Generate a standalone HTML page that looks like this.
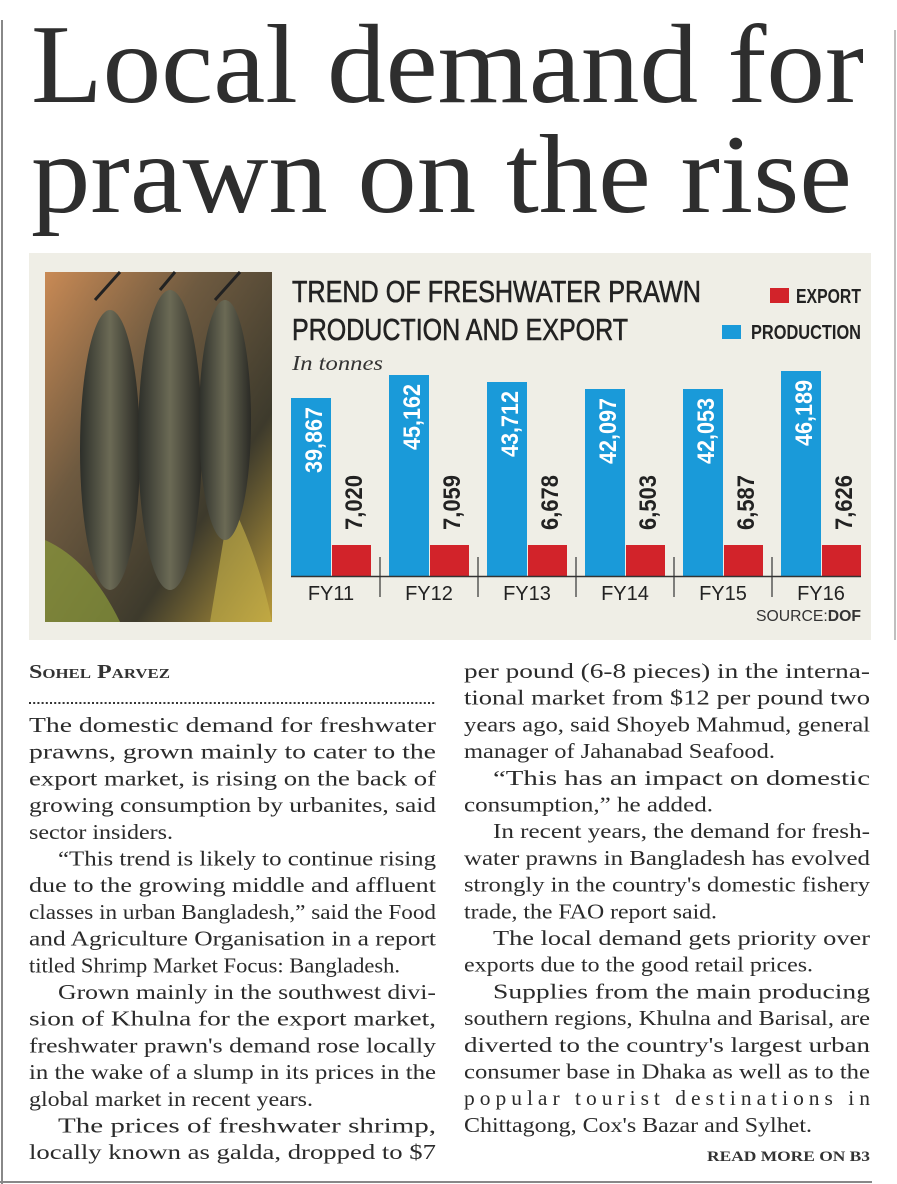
<!DOCTYPE html>
<html><head><meta charset="utf-8"><style>
html,body{margin:0;padding:0;background:#fff;}
svg{display:block}
.b{font-family:"Liberation Serif",serif;font-size:21.5px;fill:#2b2b2b}
.c{font-family:"Liberation Sans Narrow","Liberation Sans",sans-serif;}
</style></head><body>
<svg width="897" height="1184" viewBox="0 0 897 1184" xmlns="http://www.w3.org/2000/svg">
<line x1="2" y1="20" x2="2" y2="1184" stroke="#888" stroke-width="2"/>
<line x1="895" y1="30" x2="895" y2="640" stroke="#aaa" stroke-width="1.5"/>
<text x="31" y="102" font-family="Liberation Serif, serif" font-size="112" fill="#2e2e2e" textLength="833" lengthAdjust="spacingAndGlyphs">Local demand for</text>
<text x="31" y="212" font-family="Liberation Serif, serif" font-size="112" fill="#2e2e2e" textLength="821" lengthAdjust="spacingAndGlyphs">prawn on the rise</text>
<rect x="29" y="253" width="842" height="387" fill="#efeee6"/>
<defs>
<linearGradient id="ph" x1="0" y1="0" x2="1" y2="1">
<stop offset="0" stop-color="#c98a55"/><stop offset="0.35" stop-color="#6e5a40"/><stop offset="0.7" stop-color="#3d3a2c"/><stop offset="1" stop-color="#b99a3a"/>
</linearGradient>
<linearGradient id="pr" x1="0" y1="0" x2="1" y2="0">
<stop offset="0" stop-color="#2d2f2a"/><stop offset="0.5" stop-color="#6b6a55"/><stop offset="1" stop-color="#2a2a25"/>
</linearGradient>
</defs>
<rect x="45" y="272" width="227" height="350" fill="url(#ph)"/>
<path d="M45 540 Q90 560 120 622 L45 622Z" fill="#8a9a3a" opacity="0.7"/>
<path d="M230 500 Q260 560 272 622 L210 622Z" fill="#c7b24a" opacity="0.6"/>
<ellipse cx="110" cy="450" rx="30" ry="140" fill="url(#pr)"/>
<ellipse cx="170" cy="440" rx="32" ry="150" fill="url(#pr)"/>
<ellipse cx="225" cy="420" rx="26" ry="120" fill="url(#pr)"/>
<path d="M95 300 L120 272 M160 290 L175 272 M215 300 L240 272" stroke="#222" stroke-width="3"/>
<g class="c" fill="#222">
<text x="292" y="302" font-size="31" stroke="#222" stroke-width="0.6" textLength="409" lengthAdjust="spacingAndGlyphs">TREND OF FRESHWATER PRAWN</text>
<text x="292" y="340" font-size="31" stroke="#222" stroke-width="0.6" textLength="336" lengthAdjust="spacingAndGlyphs">PRODUCTION AND EXPORT</text>
<rect x="770" y="288" width="19" height="15" fill="#d2232a"/>
<text x="796" y="303" font-size="20" font-weight="bold" textLength="65" lengthAdjust="spacingAndGlyphs">EXPORT</text>
<rect x="722" y="325" width="19" height="14" fill="#1a9ad9"/>
<text x="751" y="339" font-size="20" font-weight="bold" textLength="110" lengthAdjust="spacingAndGlyphs">PRODUCTION</text>
</g>
<text x="292" y="370" font-family="Liberation Serif, serif" font-style="italic" font-size="21" fill="#333" textLength="91" lengthAdjust="spacingAndGlyphs">In tonnes</text>
<g class="c">
<rect x="291" y="398" width="40" height="178" fill="#1a9ad9"/><rect x="332" y="545" width="39" height="31" fill="#d2232a"/>
<rect x="389" y="375" width="40" height="201" fill="#1a9ad9"/><rect x="430" y="545" width="39" height="31" fill="#d2232a"/>
<rect x="487" y="382" width="40" height="194" fill="#1a9ad9"/><rect x="528" y="545" width="39" height="31" fill="#d2232a"/>
<rect x="585" y="389" width="40" height="187" fill="#1a9ad9"/><rect x="626" y="545" width="39" height="31" fill="#d2232a"/>
<rect x="683" y="389" width="40" height="187" fill="#1a9ad9"/><rect x="724" y="545" width="39" height="31" fill="#d2232a"/>
<rect x="781" y="371" width="40" height="205" fill="#1a9ad9"/><rect x="822" y="545" width="39" height="31" fill="#d2232a"/>
<line x1="291" y1="576.5" x2="861" y2="576.5" stroke="#333" stroke-width="1.5"/>
<g stroke="#333" stroke-width="1.2">
<line x1="380" y1="557" x2="380" y2="597"/><line x1="478" y1="557" x2="478" y2="597"/><line x1="576" y1="557" x2="576" y2="597"/><line x1="674" y1="557" x2="674" y2="597"/><line x1="772" y1="557" x2="772" y2="597"/>
</g>
<g fill="#fff" font-size="24" font-weight="bold" text-anchor="end">
<text transform="translate(322,407) rotate(-90)" textLength="66" lengthAdjust="spacingAndGlyphs">39,867</text>
<text transform="translate(420,384) rotate(-90)" textLength="66" lengthAdjust="spacingAndGlyphs">45,162</text>
<text transform="translate(518,391) rotate(-90)" textLength="66" lengthAdjust="spacingAndGlyphs">43,712</text>
<text transform="translate(616,398) rotate(-90)" textLength="66" lengthAdjust="spacingAndGlyphs">42,097</text>
<text transform="translate(714,398) rotate(-90)" textLength="66" lengthAdjust="spacingAndGlyphs">42,053</text>
<text transform="translate(812,380) rotate(-90)" textLength="66" lengthAdjust="spacingAndGlyphs">46,189</text>
</g>
<g fill="#222" font-size="24" font-weight="bold">
<text transform="translate(362,530) rotate(-90)" textLength="55" lengthAdjust="spacingAndGlyphs">7,020</text>
<text transform="translate(460,530) rotate(-90)" textLength="55" lengthAdjust="spacingAndGlyphs">7,059</text>
<text transform="translate(558,530) rotate(-90)" textLength="55" lengthAdjust="spacingAndGlyphs">6,678</text>
<text transform="translate(656,530) rotate(-90)" textLength="55" lengthAdjust="spacingAndGlyphs">6,503</text>
<text transform="translate(754,530) rotate(-90)" textLength="55" lengthAdjust="spacingAndGlyphs">6,587</text>
<text transform="translate(852,530) rotate(-90)" textLength="55" lengthAdjust="spacingAndGlyphs">7,626</text>
</g>
<g fill="#222" font-size="20" text-anchor="middle">
<text x="331" y="600">FY11</text><text x="429" y="600">FY12</text><text x="527" y="600">FY13</text>
<text x="625" y="600">FY14</text><text x="723" y="600">FY15</text><text x="821" y="600">FY16</text>
</g>
<text x="756" y="621" font-size="16" fill="#333" textLength="105" lengthAdjust="spacingAndGlyphs">SOURCE:<tspan font-weight="bold">DOF</tspan></text>
</g>
<text x="29" y="678" font-family="Liberation Serif, serif" font-size="20" font-weight="bold" fill="#333" style="font-variant:small-caps" textLength="141" lengthAdjust="spacingAndGlyphs">Sohel Parvez</text>
<line x1="29" y1="703" x2="436" y2="703" stroke="#333" stroke-width="2" stroke-dasharray="2,2.2"/>
<g class="b">
<text x="29" y="732" textLength="407" lengthAdjust="spacingAndGlyphs">The domestic demand for freshwater</text>
<text x="29" y="758.7" textLength="407" lengthAdjust="spacingAndGlyphs">prawns, grown mainly to cater to the</text>
<text x="29" y="785.4" textLength="407" lengthAdjust="spacingAndGlyphs">export market, is rising on the back of</text>
<text x="29" y="812.1" textLength="407" lengthAdjust="spacingAndGlyphs">growing consumption by urbanites, said</text>
<text x="29" y="838.8" textLength="144" lengthAdjust="spacingAndGlyphs">sector insiders.</text>
<text x="58" y="865.5" textLength="378" lengthAdjust="spacingAndGlyphs">“This trend is likely to continue rising</text>
<text x="29" y="892.2" textLength="407" lengthAdjust="spacingAndGlyphs">due to the growing middle and affluent</text>
<text x="29" y="918.9" textLength="407" lengthAdjust="spacingAndGlyphs">classes in urban Bangladesh,” said the Food</text>
<text x="29" y="945.6" textLength="407" lengthAdjust="spacingAndGlyphs">and Agriculture Organisation in a report</text>
<text x="29" y="972.3" textLength="371" lengthAdjust="spacingAndGlyphs">titled Shrimp Market Focus: Bangladesh.</text>
<text x="58" y="999" textLength="378" lengthAdjust="spacingAndGlyphs">Grown mainly in the southwest divi-</text>
<text x="29" y="1025.7" textLength="407" lengthAdjust="spacingAndGlyphs">sion of Khulna for the export market,</text>
<text x="29" y="1052.4" textLength="407" lengthAdjust="spacingAndGlyphs">freshwater prawn's demand rose locally</text>
<text x="29" y="1079.1" textLength="407" lengthAdjust="spacingAndGlyphs">in the wake of a slump in its prices in the</text>
<text x="29" y="1105.8" textLength="284" lengthAdjust="spacingAndGlyphs">global market in recent years.</text>
<text x="58" y="1132.5" textLength="378" lengthAdjust="spacingAndGlyphs">The prices of freshwater shrimp,</text>
<text x="29" y="1159.2" textLength="407" lengthAdjust="spacingAndGlyphs">locally known as galda, dropped to $7</text>

<text x="464" y="678" textLength="406" lengthAdjust="spacingAndGlyphs">per pound (6-8 pieces) in the interna-</text>
<text x="464" y="704.7" textLength="406" lengthAdjust="spacingAndGlyphs">tional market from $12 per pound two</text>
<text x="464" y="731.4" textLength="406" lengthAdjust="spacingAndGlyphs">years ago, said Shoyeb Mahmud, general</text>
<text x="464" y="758.1" textLength="311" lengthAdjust="spacingAndGlyphs">manager of Jahanabad Seafood.</text>
<text x="493" y="784.8" textLength="377" lengthAdjust="spacingAndGlyphs">“This has an impact on domestic</text>
<text x="464" y="811.5" textLength="249" lengthAdjust="spacingAndGlyphs">consumption,” he added.</text>
<text x="493" y="838.2" textLength="377" lengthAdjust="spacingAndGlyphs">In recent years, the demand for fresh-</text>
<text x="464" y="864.9" textLength="406" lengthAdjust="spacingAndGlyphs">water prawns in Bangladesh has evolved</text>
<text x="464" y="891.6" textLength="406" lengthAdjust="spacingAndGlyphs">strongly in the country's domestic fishery</text>
<text x="464" y="918.3" textLength="253" lengthAdjust="spacingAndGlyphs">trade, the FAO report said.</text>
<text x="493" y="945" textLength="377" lengthAdjust="spacingAndGlyphs">The local demand gets priority over</text>
<text x="464" y="971.7" textLength="349" lengthAdjust="spacingAndGlyphs">exports due to the good retail prices.</text>
<text x="493" y="998.4" textLength="377" lengthAdjust="spacingAndGlyphs">Supplies from the main producing</text>
<text x="464" y="1025.1" textLength="406" lengthAdjust="spacingAndGlyphs">southern regions, Khulna and Barisal, are</text>
<text x="464" y="1051.8" textLength="406" lengthAdjust="spacingAndGlyphs">diverted to the country's largest urban</text>
<text x="464" y="1078.5" textLength="406" lengthAdjust="spacingAndGlyphs">consumer base in Dhaka as well as to the</text>
<text x="464" y="1105.2" textLength="406" lengthAdjust="spacing">popular tourist destinations in</text>
<text x="464" y="1131.9" textLength="348" lengthAdjust="spacingAndGlyphs">Chittagong, Cox's Bazar and Sylhet.</text>
</g>
<text x="707" y="1161" font-family="Liberation Serif, serif" font-size="15" font-weight="bold" fill="#333" textLength="163" lengthAdjust="spacingAndGlyphs">READ MORE ON B3</text>
<line x1="0" y1="1182" x2="872" y2="1182" stroke="#888" stroke-width="2"/>
</svg>
</body></html>
